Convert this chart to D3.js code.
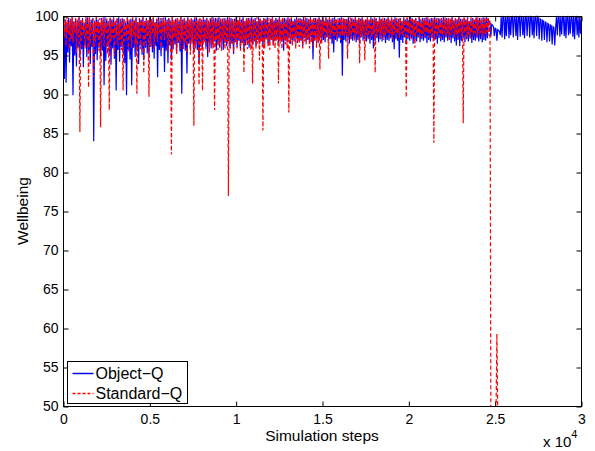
<!DOCTYPE html>
<html>
<head>
<meta charset="utf-8">
<script src="https://cdn.jsdelivr.net/npm/d3@7"></script>
<style>
body { margin: 0; background: #fff; }
text { font-family: "Liberation Sans", Arial, sans-serif; fill: #000; }
</style>
</head>
<body>
<div class="wrapper"></div>
<script>
// one sample every 50 simulation steps
const sampleStep = 50;

const objectQ = [
    98.8, 92.0, 99.6, 91.5, 99.2, 95.4, 99.8, 94.1, 99.5, 96.2, 99.9, 89.9, 99.3, 95.0, 99.7, 93.6, 99.4, 96.0, 99.9, 94.7,
    99.5, 95.8, 99.8, 93.5, 99.2, 96.3, 99.7, 94.8, 99.9, 95.5, 99.4, 93.9, 99.6, 96.1, 99.8, 84.0, 99.3, 95.2, 99.9, 94.4,
    99.6, 96.0, 99.2, 94.9, 99.8, 95.6, 99.5, 91.2, 99.9, 94.3, 99.7, 96.2, 99.4, 95.0, 99.8, 93.8, 99.6, 95.9, 99.9, 94.6,
    99.3, 90.5, 99.7, 95.7, 99.9, 94.2, 99.5, 96.1, 99.8, 95.3, 99.6, 94.0, 99.2, 89.9, 99.9, 95.8, 99.4, 94.5, 99.7, 91.2,
    99.8, 96.0, 99.5, 94.8, 99.9, 95.5, 99.3, 93.9, 99.7, 96.3, 99.6, 95.1, 99.9, 94.4, 99.4, 96.0, 99.8, 95.3, 99.5, 94.7,
    99.9, 96.1, 99.6, 95.4, 99.8, 94.6, 99.3, 96.2, 99.7, 92.2, 99.9, 95.7, 99.5, 94.9, 99.8, 96.0, 99.4, 92.9, 99.9, 95.6,
    99.6, 94.0, 99.8, 96.3, 99.5, 94.4, 99.9, 95.8, 99.3, 96.4, 99.7, 95.2, 99.8, 96.6, 99.4, 95.5, 99.9, 90.1, 99.6, 96.2,
    99.8, 95.6, 99.5, 92.7, 99.9, 96.5, 99.3, 95.9, 99.7, 96.8, 99.6, 95.3, 99.8, 96.4, 99.9, 95.7, 99.4, 94.0, 99.7, 96.6,
    99.5, 95.8, 99.9, 96.9, 99.6, 96.1, 99.8, 94.8, 99.3, 96.7, 99.7, 95.9, 99.9, 96.3, 99.5, 96.8, 99.8, 95.6, 99.6, 96.5,
    99.9, 96.0, 99.4, 96.9, 99.7, 95.7, 99.8, 96.6, 99.5, 96.2, 99.9, 96.8, 99.6, 95.9, 99.8, 96.5, 99.3, 95.2, 99.7, 96.7,
    99.9, 96.1, 99.5, 96.9, 99.8, 95.8, 99.6, 96.6, 99.9, 95.6, 99.4, 96.3, 99.7, 96.9, 99.8, 96.0, 99.5, 96.7, 99.9, 96.4,
    99.6, 96.8, 99.8, 96.2, 99.4, 97.0, 99.9, 96.5, 99.7, 96.9, 99.5, 96.1, 99.8, 96.7, 99.6, 97.1, 99.9, 96.4, 99.3, 96.8,
    99.7, 97.0, 99.9, 96.3, 99.5, 96.9, 99.8, 97.2, 99.6, 96.6, 99.9, 97.1, 99.4, 96.8, 99.7, 95.6, 99.8, 97.0, 99.5, 96.7,
    99.9, 97.2, 99.6, 96.5, 99.8, 97.0, 99.4, 96.8, 99.7, 97.3, 99.9, 96.6, 99.5, 97.1, 99.8, 96.9, 99.6, 96.0, 99.9, 97.2,
    99.5, 96.7, 99.8, 97.0, 99.6, 96.5, 99.9, 97.3, 99.4, 94.5, 99.7, 96.9, 99.8, 97.1, 99.5, 96.6, 99.9, 97.2, 99.6, 96.8,
    99.8, 97.0, 99.4, 96.7, 99.9, 97.3, 99.6, 96.9, 99.7, 97.1, 99.5, 96.5, 99.8, 95.4, 99.9, 97.0, 99.6, 96.8, 99.4, 97.2,
    99.8, 96.6, 99.9, 92.4, 99.5, 97.0, 99.7, 96.8, 99.6, 97.3, 99.9, 96.5, 99.4, 97.1, 99.8, 96.9, 99.6, 97.2, 99.9, 96.7,
    99.5, 97.0, 99.8, 96.6, 99.7, 97.3, 99.9, 96.9, 99.4, 97.1, 99.6, 96.8, 99.8, 97.2, 99.5, 96.5, 99.9, 97.0, 99.7, 95.9,
    99.6, 96.9, 99.8, 97.2, 99.4, 96.7, 99.9, 97.1, 99.7, 96.8, 99.5, 97.3, 99.8, 96.6, 99.6, 97.0, 99.9, 96.9, 99.4, 97.2,
    99.8, 96.7, 99.6, 95.8, 99.9, 97.1, 99.5, 96.9, 99.7, 94.7, 99.8, 97.0, 99.4, 96.6, 99.9, 97.3, 99.6, 96.8, 99.8, 97.1,
    99.5, 96.9, 99.9, 97.2, 99.7, 96.5, 99.6, 97.0, 99.8, 96.8, 99.4, 97.3, 99.9, 96.7, 99.5, 97.1, 99.8, 96.9, 99.6, 97.2,
    99.9, 96.6, 99.7, 97.0, 99.5, 96.8, 99.8, 97.3, 99.6, 96.9, 99.9, 97.1, 99.4, 96.5, 99.8, 97.2, 99.7, 96.8, 99.5, 97.0,
    99.9, 96.7, 99.6, 97.3, 99.8, 96.9, 99.4, 97.1, 99.7, 96.6, 99.9, 97.2, 99.5, 96.8, 99.8, 96.3, 99.6, 97.0, 99.9, 96.2,
    99.7, 96.9, 99.5, 97.2, 99.8, 96.7, 99.6, 97.1, 99.9, 96.8, 99.4, 97.3, 99.7, 96.6, 99.8, 97.0, 99.5, 96.9, 99.9, 97.2,
    99.6, 96.8, 99.8, 97.1, 99.5, 96.7, 99.9, 97.0, 99.7, 96.9, 99.9, 97.2, 99.6, 99.4, 99.2, 97.4, 99.0, 98.9, 98.7, 97.5,
    98.5, 98.4, 96.9, 98.3, 98.2, 98.1, 97.6, 100, 97.3, 100, 99.9, 97.1, 100, 97.5, 99.9, 100, 97.2, 100, 97.6, 99.9,
    100, 97.3, 99.9, 100, 97.5, 100, 97.0, 99.9, 100, 97.4, 100, 99.9, 97.6, 100, 97.2, 99.9, 100, 97.5, 99.9, 100,
    97.3, 100, 99.9, 97.6, 100, 97.2, 99.9, 100, 97.5, 100, 99.8, 97.1, 99.7, 99.6, 96.9, 99.5, 99.4, 97.0, 99.3, 99.2,
    96.7, 99.1, 99.0, 96.8, 98.9, 98.8, 96.4, 98.7, 98.6, 96.3, 98.5, 100, 97.6, 100, 99.9, 97.4, 100, 97.7, 99.9, 100,
    97.5, 100, 97.2, 99.9, 100, 97.6, 100, 97.8, 99.9, 100, 97.4, 100, 97.1, 99.9, 100, 97.6, 100, 97.3, 99.9, 97.8,
    100
];

const standardQ = [
    99.8, 97.6, 99.5, 96.2, 100, 97.9, 99.3, 95.8, 99.7, 97.1, 99.9, 96.6, 99.4, 98.0, 99.8, 95.4, 99.6, 97.3, 99.9, 85.2,
    99.5, 96.9, 99.8, 97.7, 99.2, 95.9, 100, 97.2, 99.6, 90.9, 99.9, 96.4, 99.3, 97.8, 99.7, 92.2, 99.5, 96.7, 99.9, 97.4,
    99.4, 95.6, 99.8, 85.8, 99.6, 97.5, 99.9, 96.1, 99.3, 97.9, 99.7, 95.2, 99.5, 88.0, 99.9, 96.8, 99.4, 97.3, 99.8, 94.9,
    99.6, 97.7, 99.9, 96.3, 99.2, 97.0, 99.7, 95.7, 99.5, 90.5, 99.8, 96.9, 99.4, 97.8, 100, 95.5, 99.6, 97.2, 99.3, 96.0,
    99.9, 97.6, 99.5, 96.4, 99.7, 90.1, 99.3, 97.1, 99.8, 95.8, 99.6, 97.9, 99.9, 92.7, 99.4, 96.6, 99.7, 97.4, 99.5, 89.7,
    99.8, 96.2, 99.6, 97.8, 99.9, 95.9, 99.3, 97.3, 99.7, 96.7, 99.5, 98.0, 99.8, 95.6, 99.4, 97.5, 99.9, 96.9, 99.6, 97.7,
    99.3, 95.6, 99.8, 96.7, 99.5, 82.3, 99.9, 95.9, 99.7, 97.4, 99.4, 95.2, 99.8, 96.9, 99.6, 95.7, 100, 97.1, 99.5, 95.8,
    99.9, 96.6, 99.3, 95.3, 99.7, 97.2, 99.6, 95.1, 99.8, 96.5, 99.4, 86.0, 99.9, 95.9, 99.5, 97.0, 99.7, 91.2, 99.8, 95.6,
    99.6, 90.5, 99.9, 96.7, 99.3, 95.8, 99.7, 97.1, 99.5, 95.4, 99.8, 96.6, 99.6, 95.9, 99.9, 88.0, 99.4, 96.9, 99.8, 95.7,
    99.5, 96.4, 99.9, 95.6, 99.7, 97.1, 99.3, 95.8, 99.8, 96.7, 99.6, 77.0, 99.9, 95.9, 99.4, 97.0, 99.7, 95.4, 99.5, 96.8,
    99.8, 95.9, 99.6, 97.1, 99.9, 95.6, 99.3, 96.6, 99.7, 92.8, 99.5, 96.9, 99.8, 95.8, 99.6, 96.4, 99.9, 95.7, 99.4, 91.4,
    99.7, 97.0, 99.5, 95.9, 99.9, 96.5, 99.6, 94.4, 99.8, 96.8, 99.4, 85.4, 99.9, 95.9, 99.7, 97.1, 99.5, 96.2, 99.8, 95.7,
    99.6, 97.0, 99.9, 96.3, 99.3, 95.9, 99.7, 96.9, 99.5, 91.4, 99.8, 96.5, 99.6, 95.8, 99.9, 97.1, 99.4, 96.4, 99.7, 95.9,
    99.5, 87.7, 99.8, 96.8, 99.9, 96.2, 99.6, 97.1, 99.3, 95.9, 99.7, 96.6, 99.9, 96.1, 99.5, 97.0, 99.8, 95.9, 99.6, 96.8,
    99.9, 96.4, 99.4, 97.1, 99.7, 95.9, 99.8, 96.6, 99.6, 96.2, 99.9, 97.0, 99.5, 96.0, 99.7, 96.8, 99.8, 93.2, 99.4, 96.5,
    99.9, 97.8, 99.6, 97.0, 99.8, 97.6, 99.5, 94.6, 99.9, 97.3, 99.7, 97.9, 99.4, 96.9, 99.8, 97.7, 99.6, 97.2, 99.9, 97.8,
    99.5, 97.0, 99.7, 97.6, 99.9, 97.4, 99.6, 97.9, 99.8, 94.6, 99.4, 97.5, 99.9, 97.1, 99.7, 97.8, 99.5, 96.9, 99.8, 97.6,
    99.6, 97.9, 99.9, 94.0, 99.5, 97.4, 99.8, 97.8, 99.7, 94.4, 99.4, 97.6, 99.9, 97.1, 99.6, 97.9, 99.8, 97.3, 99.5, 97.7,
    99.9, 92.8, 99.7, 97.5, 99.4, 97.9, 99.8, 97.2, 99.6, 97.8, 99.9, 97.0, 99.5, 97.6, 99.7, 97.9, 99.8, 97.3, 99.6, 97.7,
    99.9, 97.1, 99.5, 97.8, 99.7, 97.4, 99.8, 97.9, 99.6, 97.2, 99.9, 97.7, 99.4, 97.5, 99.8, 97.9, 99.6, 89.6, 99.9, 97.3,
    99.5, 97.8, 99.7, 97.1, 99.9, 97.6, 99.6, 96.0, 99.8, 97.9, 99.4, 97.4, 99.9, 97.7, 99.7, 97.2, 99.5, 97.8, 99.8, 97.5,
    99.6, 97.9, 99.9, 97.3, 99.7, 97.7, 99.5, 97.1, 99.8, 83.8, 99.6, 97.8, 99.9, 97.4, 99.4, 97.9, 99.7, 97.2, 99.8, 97.6,
    99.5, 97.9, 99.9, 97.3, 99.6, 97.8, 99.8, 97.0, 99.7, 97.6, 99.9, 97.9, 99.4, 97.4, 99.8, 97.7, 99.6, 97.2, 99.9, 97.8,
    99.5, 97.5, 99.7, 86.3, 99.9, 97.9, 99.6, 97.3, 99.8, 97.7, 99.4, 97.1, 99.9, 97.8, 99.7, 97.5, 99.6, 97.9, 99.8, 97.4,
    99.9, 97.7, 99.5, 97.9, 99.8, 97.3, 99.6, 97.8, 99.9, 97.6, 99.7, 98.0, 99.8, 97.5, 99.6, 49, 49, 49, 49, 49,
    49, 49, 59.3, 49, 49
];

const seriesNames = ["Object\u2212Q", "Standard\u2212Q"];
const xTicks = [0, 5000, 10000, 15000, 20000, 25000, 30000];
const xTickLabels = ["0", "0.5", "1", "1.5", "2", "2.5", "3"];
const yTicks = [50, 55, 60, 65, 70, 75, 80, 85, 90, 95, 100];

const margin = {top: 16, right: 14, bottom: 45, left: 63},
    width = 595 - margin.left - margin.right,
    height = 451 - margin.top - margin.bottom;

const svg = d3.select(".wrapper").append("svg")
    .attr("width", 595)
    .attr("height", 451);

const g = svg.append("g")
    .attr("transform", "translate(" + (margin.left + 0.5) + "," + (margin.top + 0.5) + ")");

const x = d3.scaleLinear().domain([0, 30000]).range([0, width]);
const y = d3.scaleLinear().domain([50, 100]).range([height, 0]);

g.append("clipPath").attr("id", "plot-clip")
    .append("rect")
    .attr("x", 0).attr("y", -1)
    .attr("width", width).attr("height", height + 1);

const line = d3.line()
    .x((d, i) => x(i * sampleStep))
    .y(d => y(d));

const plot = g.append("g").attr("clip-path", "url(#plot-clip)");

plot.append("path")
    .datum(objectQ)
    .attr("fill", "none")
    .attr("stroke", "#0000ff")
    .attr("stroke-width", 1.2)
    .attr("d", line);

plot.append("path")
    .datum(standardQ)
    .attr("fill", "none")
    .attr("stroke", "#ff0000")
    .attr("stroke-width", 1.2)
    .attr("stroke-dasharray", "4,2.5")
    .attr("d", line);

// axes, MATLAB style: ticks inside, box all round
g.append("g")
    .attr("transform", "translate(0," + height + ")")
    .call(d3.axisBottom(x).tickValues(xTicks).tickFormat((d, i) => xTickLabels[i])
        .tickSizeInner(-5).tickSizeOuter(0).tickPadding(8));

g.append("g")
    .call(d3.axisLeft(y).tickValues(yTicks).tickFormat(d3.format("d"))
        .tickSizeInner(-5).tickSizeOuter(0).tickPadding(5));

g.append("g")
    .attr("transform", "translate(" + width + ",0)")
    .call(d3.axisRight(y).tickValues(yTicks).tickFormat("").tickSizeInner(-5).tickSizeOuter(0));

g.append("g")
    .call(d3.axisTop(x).tickValues(xTicks).tickFormat("").tickSizeInner(-5).tickSizeOuter(0));

g.selectAll(".domain").remove();
g.selectAll(".tick line").attr("stroke", "#000");
g.selectAll(".tick text")
    .style("font-family", "'Liberation Sans', Arial, sans-serif")
    .style("font-size", "14px")
    .attr("fill", "#000");

g.append("rect")
    .attr("width", width)
    .attr("height", height)
    .attr("fill", "none")
    .attr("stroke", "#000")
    .attr("stroke-width", 1);

// axis titles
svg.append("text")
    .attr("x", margin.left + width / 2)
    .attr("y", 441)
    .attr("text-anchor", "middle")
    .style("font-size", "15.5px")
    .text("Simulation steps");

svg.append("text")
    .attr("transform", "translate(28," + (margin.top + height / 2) + ") rotate(-90)")
    .attr("text-anchor", "middle")
    .style("font-size", "15.5px")
    .text("Wellbeing");

const expo = svg.append("text")
    .attr("x", 543)
    .attr("y", 447)
    .style("font-size", "15px");
expo.append("tspan").text("x 10");
expo.append("tspan").attr("dy", -9).style("font-size", "11px").text("4");

// legend
const legend = g.append("g").attr("transform", "translate(4," + (height - 45) + ")");
legend.append("rect")
    .attr("width", 120)
    .attr("height", 42)
    .attr("fill", "#fff")
    .attr("stroke", "#000")
    .attr("stroke-width", 1);

const legendColors = ["#0000ff", "#ff0000"];
const legendDash = [null, "3,2"];
seriesNames.forEach((name, i) => {
    const ly = 12 + i * 20;
    legend.append("line")
        .attr("x1", 5).attr("x2", 26)
        .attr("y1", ly).attr("y2", ly)
        .attr("stroke", legendColors[i])
        .attr("stroke-width", 1.5)
        .attr("stroke-dasharray", legendDash[i]);
    legend.append("text")
        .attr("x", 28)
        .attr("y", ly + 5.5)
        .style("font-size", "16px")
        .text(name);
});
</script>
</body>
</html>
